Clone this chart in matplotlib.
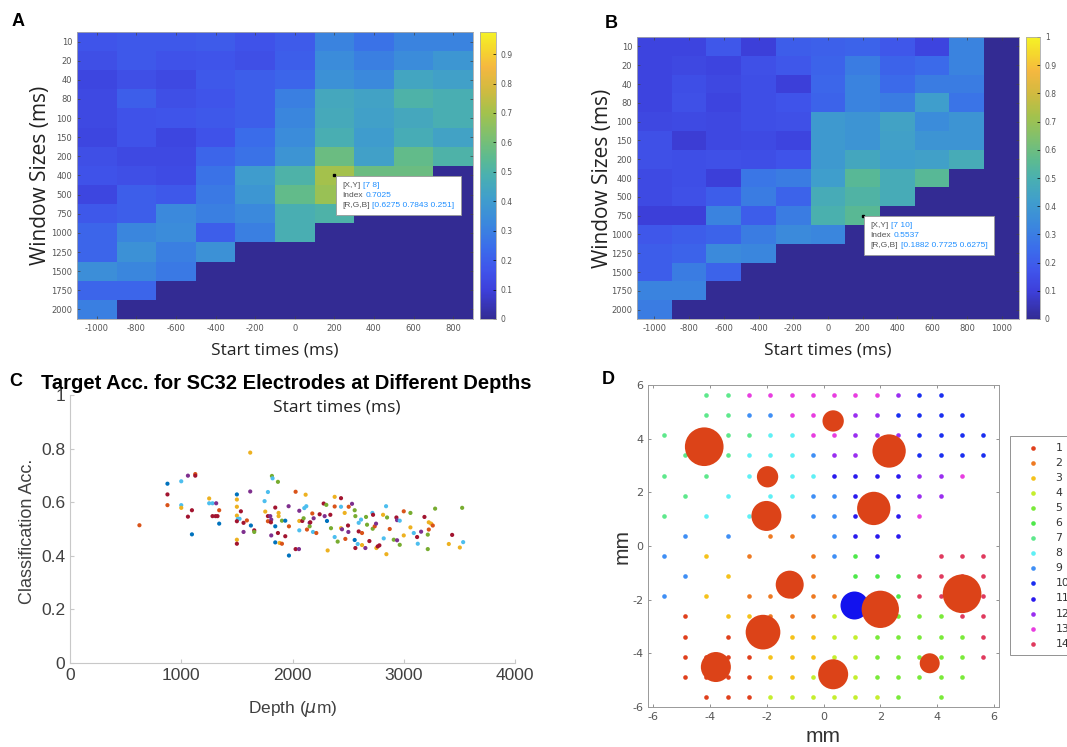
import numpy as np
import matplotlib
matplotlib.use("Agg")
import matplotlib.pyplot as plt
from matplotlib.colors import LinearSegmentedColormap
from matplotlib.ticker import FormatStrFormatter
from matplotlib.offsetbox import TextArea, HPacker, VPacker, AnnotationBbox

plt.rcParams["axes.unicode_minus"] = False

# ---------------- data: panels A and B (decoding accuracy heatmaps) ----------------
window_sizes = [10, 20, 40, 80, 100, 150, 200, 400, 500, 750, 1000, 1250, 1500, 1750, 2000]
starts_a = [-1000, -800, -600, -400, -200, 0, 200, 400, 600, 800]
starts_b = [-1000, -800, -600, -400, -200, 0, 200, 400, 600, 800, 1000]

acc_a = [
    [0.17, 0.18, 0.18, 0.19, 0.16, 0.19, 0.31, 0.26, 0.31, 0.31],
    [0.15, 0.18, 0.16, 0.17, 0.15, 0.20, 0.34, 0.30, 0.34, 0.38],
    [0.12, 0.15, 0.13, 0.18, 0.20, 0.22, 0.36, 0.33, 0.44, 0.42],
    [0.13, 0.20, 0.15, 0.17, 0.20, 0.30, 0.45, 0.43, 0.50, 0.48],
    [0.13, 0.16, 0.17, 0.18, 0.20, 0.32, 0.46, 0.42, 0.45, 0.48],
    [0.12, 0.16, 0.12, 0.16, 0.24, 0.34, 0.48, 0.40, 0.47, 0.43],
    [0.15, 0.13, 0.13, 0.22, 0.26, 0.37, 0.58, 0.42, 0.56, 0.50],
    [0.16, 0.15, 0.14, 0.26, 0.40, 0.50, 0.7025, 0.58, 0.58, 0.0],
    [0.12, 0.20, 0.18, 0.28, 0.38, 0.56, 0.68, 0.58, 0.0, 0.0],
    [0.18, 0.20, 0.33, 0.30, 0.33, 0.48, 0.50, 0.0, 0.0, 0.0],
    [0.22, 0.32, 0.34, 0.20, 0.30, 0.48, 0.0, 0.0, 0.0, 0.0],
    [0.22, 0.36, 0.30, 0.36, 0.0, 0.0, 0.0, 0.0, 0.0, 0.0],
    [0.35, 0.32, 0.28, 0.0, 0.0, 0.0, 0.0, 0.0, 0.0, 0.0],
    [0.22, 0.22, 0.0, 0.0, 0.0, 0.0, 0.0, 0.0, 0.0, 0.0],
    [0.30, 0.0, 0.0, 0.0, 0.0, 0.0, 0.0, 0.0, 0.0, 0.0],
]
acc_b = [
    [0.12, 0.12, 0.18, 0.10, 0.20, 0.21, 0.22, 0.18, 0.12, 0.32, 0.0],
    [0.12, 0.13, 0.12, 0.16, 0.18, 0.22, 0.30, 0.22, 0.24, 0.32, 0.0],
    [0.12, 0.15, 0.13, 0.15, 0.10, 0.23, 0.32, 0.24, 0.30, 0.30, 0.0],
    [0.12, 0.16, 0.12, 0.15, 0.17, 0.22, 0.32, 0.30, 0.42, 0.27, 0.0],
    [0.13, 0.14, 0.13, 0.15, 0.16, 0.40, 0.38, 0.44, 0.35, 0.38, 0.0],
    [0.16, 0.09, 0.13, 0.14, 0.12, 0.40, 0.38, 0.43, 0.38, 0.38, 0.0],
    [0.16, 0.15, 0.16, 0.15, 0.17, 0.40, 0.46, 0.42, 0.43, 0.48, 0.0],
    [0.14, 0.15, 0.10, 0.28, 0.30, 0.42, 0.55, 0.48, 0.55, 0.0, 0.0],
    [0.14, 0.16, 0.20, 0.30, 0.22, 0.48, 0.52, 0.48, 0.0, 0.0, 0.0],
    [0.10, 0.10, 0.32, 0.20, 0.30, 0.50, 0.5537, 0.0, 0.0, 0.0, 0.0],
    [0.18, 0.20, 0.22, 0.30, 0.34, 0.33, 0.0, 0.0, 0.0, 0.0, 0.0],
    [0.20, 0.22, 0.34, 0.33, 0.0, 0.0, 0.0, 0.0, 0.0, 0.0, 0.0],
    [0.20, 0.30, 0.22, 0.0, 0.0, 0.0, 0.0, 0.0, 0.0, 0.0, 0.0],
    [0.32, 0.32, 0.0, 0.0, 0.0, 0.0, 0.0, 0.0, 0.0, 0.0, 0.0],
    [0.30, 0.0, 0.0, 0.0, 0.0, 0.0, 0.0, 0.0, 0.0, 0.0, 0.0],
]

# ---------------- data: panel C (accuracy vs depth) ----------------
depth_um = [624, 876, 876, 876, 1000, 1000, 1000, 1060, 1060, 1096,
            1096, 1126, 1126, 1251, 1251, 1281, 1281, 1308, 1314, 1326,
            1341, 1341, 1500, 1500, 1500, 1500, 1509, 1524, 1500, 1500,
            1500, 1536, 1560, 1560, 1590, 1620, 1620, 1626, 1656, 1656,
            1749, 1755, 1779, 1779, 1779, 1800, 1815, 1821, 1809, 1806,
            1809, 1845, 1845, 1845, 1869, 1875, 1875, 1869, 1884, 1905,
            1905, 1935, 1935, 1965, 1968, 1968, 2028, 2028, 2058, 2061,
            2061, 2061, 2088, 2100, 2118, 2106, 2124, 2130, 2154, 2154,
            2160, 2178, 2184, 2214, 2190, 2244, 2280, 2289, 2304, 2310,
            2316, 2340, 2346, 2379, 2379, 2379, 2406, 2436, 2436, 2436,
            2445, 2469, 2475, 2499, 2502, 2505, 2535, 2559, 2565, 2559,
            2565, 2595, 2586, 2595, 2616, 2625, 2625, 2655, 2661, 2670,
            2691, 2718, 2724, 2721, 2739, 2751, 2754, 2766, 2781, 2814,
            2820, 2841, 2844, 2850, 2874, 2910, 2934, 2940, 2940, 2964,
            2964, 3000, 3000, 3060, 3060, 3090, 3120, 3126, 3156, 3186,
            3216, 3216, 3225, 3225, 3246, 3261, 3282, 3405, 3435, 3504,
            3525, 3534]
class_acc = [.514, .669, .629, .589, .678, .589, .579, .699, .546, .570,
             .480, .705, .699, .614, .596, .596, .548, .548, .596, .548,
             .520, .570, .629, .610, .583, .550, .538, .538, .529, .460,
             .445, .566, .523, .489, .532, .640, .785, .513, .495, .489,
             .604, .565, .638, .548, .529, .548, .698, .689, .535, .525,
             .476, .580, .510, .450, .676, .560, .548, .485, .448, .531,
             .445, .531, .473, .585, .510, .401, .639, .425, .425, .568,
             .495, .530, .530, .540, .628, .578, .585, .498, .523, .510,
             .525, .558, .489, .485, .540, .555, .595, .548, .590, .530,
             .420, .553, .503, .620, .584, .470, .453, .615, .583, .503,
             .499, .560, .463, .513, .489, .583, .594, .570, .548, .459,
             .429, .523, .444, .491, .535, .485, .440, .429, .545, .516,
             .455, .560, .553, .501, .510, .520, .429, .435, .439, .553,
             .465, .585, .406, .543, .500, .460, .543, .533, .458, .441,
             .531, .566, .476, .506, .560, .485, .470, .445, .490, .545,
             .479, .425, .525, .498, .520, .513, .576, .444, .478, .431,
             .579, .451]
# one letter per electrode: recording it belongs to
session = list("OBROLLYPRR" "BORYLLRRPR" "BOBYYYLLRY" "RRRPOPYBRG"
               "LYLROPGLPR" "PRBBGYYRYG" "OBRPOBORPP" "LYRGYLLOPG"
               "ROLOPRRPGB" "YRGYOLGRLY" "PYORPOPGGB" "RLLRLOYPGG"
               "RLRGOPYRRY" "LLYGOGRPPG" "LOYYGLRLPR" "GGYOYOGYRY" "GL")

# ---------------- data: panel D (array map) ----------------
# rows top -> bottom, columns left -> right; char = electrode group (hex, 1..e), '.' = none
grid_groups = [
    "..77dddddddcaa..",
    "..7799dddccaaaa.",
    "7.77788ddcccaaaa",
    ".7778889ccccaaaa",
    "7.7.8888bbbbccd.",
    ".7.8.8899bbbcc..",
    "7.8.88.99bbbd...",
    ".9.9.22.9bbb....",
    "9.3.2..296b..eee",
    ".9.3..22.666eeee",
    "9.3.22222666eeee",
    ".1.33222445555ee",
    ".1.133334455555e",
    ".11113334455555e",
    ".11113344455555.",
    "..1114444445.5..",
]
grid_step = 0.75
hot_x = [-4.20, 0.34, 2.31, -1.97, -2.01, 1.77, -1.19, 1.08, 2.00, 4.88, -2.13, -3.79, 0.34, 3.74]
hot_y = [3.70, 4.66, 3.54, 2.58, 1.12, 1.40, -1.44, -2.21, -2.36, -1.78, -3.21, -4.51, -4.78, -4.37]
hot_size = [775, 236, 576, 236, 467, 576, 406, 406, 722, 775, 624, 467, 467, 207]
hot_kind = ["o", "o", "o", "o", "o", "o", "o", "b", "o", "o", "o", "o", "o", "o"]

# ---------------- styling ----------------
parula = LinearSegmentedColormap.from_list("parula", [
    (0.00, (0.20, 0.17, 0.58)),
    (0.10, (0.24, 0.25, 0.86)),
    (0.17, (0.25, 0.33, 0.92)),
    (0.25, (0.23, 0.43, 0.92)),
    (0.33, (0.23, 0.53, 0.87)),
    (0.42, (0.25, 0.62, 0.80)),
    (0.50, (0.29, 0.69, 0.69)),
    (0.56, (0.36, 0.73, 0.57)),
    (0.63, (0.48, 0.75, 0.45)),
    (0.72, (0.64, 0.76, 0.30)),
    (0.80, (0.82, 0.73, 0.25)),
    (0.88, (0.96, 0.72, 0.25)),
    (0.94, (0.96, 0.84, 0.18)),
    (1.00, (0.96, 0.95, 0.15)),
])
session_colors = {"B": "#0072BD", "O": "#D95319", "Y": "#EDB120", "P": "#7E2F8E",
                  "G": "#77AC30", "L": "#4DBEEE", "R": "#A2142F"}
group_colors = ["#e0401c", "#ee7a22", "#f5c21b", "#c5ee2e", "#7aea3a", "#4ee84a", "#5ee88c",
                "#5ff0f5", "#3f8ff5", "#1a2ef0", "#2a1aee", "#9a2ef0", "#e83ee0", "#e03a5e"]
hot_colors = {"o": "#dc4318", "b": "#1212ee"}

W, H = 1067, 747
fig = plt.figure(figsize=(W / 100, H / 100), dpi=100)


def rect(l, t, r, b):
    return [l / W, 1 - b / H, (r - l) / W, (b - t) / H]


def datatip(ax, xy, xy_txt, idx_txt, rgb_txt):
    gray, blue = "#555555", "#1f8fff"

    def line(lab, val):
        return HPacker(children=[TextArea(lab, textprops=dict(color=gray, size=6, family="Liberation Sans")),
                                 TextArea(val, textprops=dict(color=blue, size=6, family="Liberation Sans"))],
                       sep=2, align="baseline")
    vp = VPacker(children=[line("[X,Y]", xy_txt), line("Index", idx_txt), line("[R,G,B]", rgb_txt)],
                 sep=2.3, align="left", pad=0)
    ab = AnnotationBbox(vp, xy, xybox=(5.5, -4.5), xycoords="data", boxcoords="offset points",
                        box_alignment=(0, 1), pad=0.45, frameon=True,
                        bboxprops=dict(fc="white", ec="#9a9a9a", lw=0.6))
    ax.add_artist(ab)
    ax.plot(*xy, "s", color="k", ms=2)


def heat(ax_rect, cb_rect, vals, starts, vmax, cticks, ylab_x):
    ax = fig.add_axes(rect(*ax_rect))
    im = ax.imshow(np.array(vals), cmap=parula, vmin=0, vmax=vmax, aspect="auto",
                   interpolation="nearest")
    ax.set_xticks(range(len(starts)), [str(s) for s in starts])
    ax.set_yticks(range(len(window_sizes)), [str(w) for w in window_sizes])
    ax.tick_params(labelsize=6, labelcolor="#555555", color="#444444", direction="in",
                   length=2, width=0.5, top=True, right=True)
    for s in ax.spines.values():
        s.set_color("#aaaaaa")
        s.set_linewidth(0.6)
    ax.set_ylabel("Window Sizes (ms)", fontsize=15, family="Open Sans", color="#222222")
    ax.yaxis.set_label_coords(ylab_x, 0.5)
    ax.set_xlabel("Start times (ms)", fontsize=12.5, family="Open Sans", color="#222222")
    ax.xaxis.set_label_coords(0.5, -0.082)
    cax = fig.add_axes(rect(*cb_rect))
    cb = fig.colorbar(im, cax=cax, ticks=cticks, format=FormatStrFormatter("%g"))
    cb.ax.tick_params(labelsize=5.5, labelcolor="#555555", direction="in", length=2, width=0.5)
    cb.outline.set_edgecolor("#aaaaaa")
    cb.outline.set_linewidth(0.6)
    return ax


# ---- A ----
ax_a = heat((77, 32, 473, 319), (480, 32, 496, 319), acc_a, starts_a, 0.975,
            [0, 0.1, 0.2, 0.3, 0.4, 0.5, 0.6, 0.7, 0.8, 0.9], -0.066)
datatip(ax_a, (6, 7), "[7 8]", "0.7025", "[0.6275 0.7843 0.251]")

# ---- B ----
ax_b = heat((637, 37, 1019, 319), (1026, 37, 1040, 319), acc_b, starts_b, 1.0,
            [0, 0.1, 0.2, 0.3, 0.4, 0.5, 0.6, 0.7, 0.8, 0.9, 1], -0.064)
datatip(ax_b, (6, 9), "[7 10]", "0.5537", "[0.1882 0.7725 0.6275]")

# ---- C ----
ax_c = fig.add_axes(rect(70, 395, 515, 663))
ax_c.scatter(depth_um, class_acc, s=9, c=[session_colors[k] for k in session], linewidths=0)
ax_c.set_xlim(0, 4000)
ax_c.set_ylim(0, 1)
ax_c.set_xticks([0, 1000, 2000, 3000, 4000])
ax_c.set_yticks([0, 0.2, 0.4, 0.6, 0.8, 1], ["0", "0.2", "0.4", "0.6", "0.8", "1"])
ax_c.spines[["top", "right"]].set_visible(False)
for s in ("left", "bottom"):
    ax_c.spines[s].set_color("#c8c8c8")
ax_c.tick_params(labelsize=12.5, labelcolor="#404040", color="#c8c8c8", direction="in", length=3)
for lab in ax_c.get_xticklabels() + ax_c.get_yticklabels():
    lab.set_family("Liberation Sans")
ax_c.set_ylabel("Classification Acc.", fontsize=13, family="Liberation Sans", color="#404040")
ax_c.yaxis.set_label_coords(-0.076, 0.49)
ax_c.set_xlabel("Depth ($\\mu$m)", fontsize=12.5, family="Liberation Sans", color="#404040")
ax_c.xaxis.set_label_coords(0.5, -0.135)
ax_c.set_title("Target Acc. for SC32 Electrodes at Different Depths", fontsize=14.5,
               fontweight="bold", family="Liberation Sans", pad=4, x=0.485)
fig.text(337 / W, 1 - 407 / H, "Start times (ms)", fontsize=12.5, family="Open Sans",
         color="#222222", ha="center", va="center")

# ---- D ----
ax_d = fig.add_axes(rect(648, 385, 999, 707))
n = len(grid_groups)
for g in range(1, 15):
    xs, ys = [], []
    for r, row in enumerate(grid_groups):
        for c, ch in enumerate(row):
            if ch != "." and int(ch, 16) == g:
                xs.append((c - (n - 1) / 2) * grid_step)
                ys.append(((n - 1) / 2 - r) * grid_step)
    ax_d.scatter(xs, ys, s=11, color=group_colors[g - 1], linewidths=0, label=str(g))
for kind in ("b", "o"):
    sel = [i for i, k in enumerate(hot_kind) if k == kind]
    ax_d.scatter([hot_x[i] for i in sel], [hot_y[i] for i in sel],
                 s=[hot_size[i] for i in sel], color=hot_colors[kind], linewidths=0)
ax_d.set_xlim(-6.18, 6.18)
ax_d.set_ylim(-6, 6)
ax_d.set_xticks(range(-6, 7, 2))
ax_d.set_yticks(range(-6, 7, 2))
ax_d.tick_params(labelsize=8, labelcolor="#555555", color="#666666", direction="in",
                 length=2.5, width=0.5, top=True, right=True)
for s in ax_d.spines.values():
    s.set_color("#999999")
    s.set_linewidth(0.7)
ax_d.set_ylabel("mm", fontsize=15, family="Liberation Sans", color="#333333")
ax_d.yaxis.set_label_coords(-0.046, 0.5)
ax_d.set_xlabel("mm", fontsize=15, family="Liberation Sans", color="#333333")
ax_d.xaxis.set_label_coords(0.5, -0.062)
leg = ax_d.legend(loc="upper left", bbox_to_anchor=(1010 / W, 1 - 436 / H),
                  bbox_transform=fig.transFigure, borderaxespad=0, fontsize=7.8,
                  handlelength=3.0, handletextpad=0.6, labelspacing=0.47, borderpad=0.6,
                  fancybox=False, frameon=True)
leg.get_frame().set_edgecolor("#777777")
leg.get_frame().set_linewidth(0.7)
for t in leg.get_texts():
    t.set_color("#333333")

# ---- panel letters ----
for letter, (x, y) in {"A": (18, 22), "B": (611, 24), "C": (16, 381), "D": (608, 379)}.items():
    fig.text(x / W, 1 - y / H, letter, fontsize=13, fontweight="bold", family="Liberation Sans",
             ha="center", va="center")

fig.savefig("out.png", dpi=100)
